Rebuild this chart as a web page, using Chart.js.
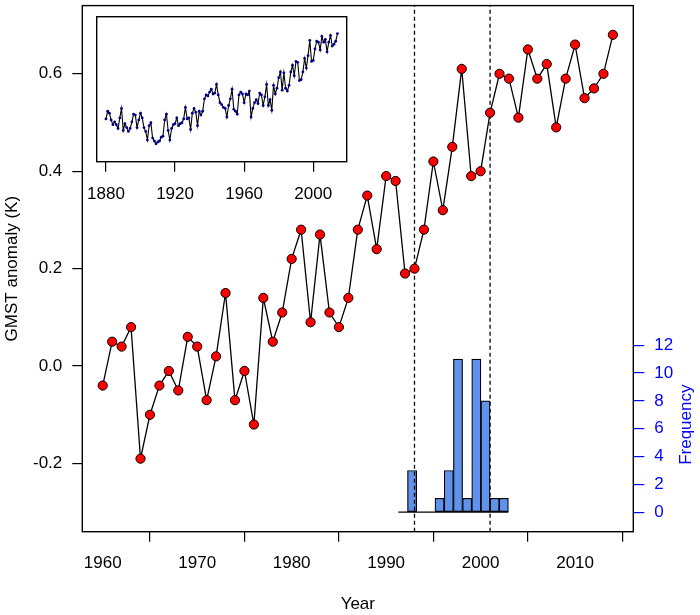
<!DOCTYPE html>
<html>
<head>
<meta charset="utf-8">
<script src="https://cdn.jsdelivr.net/npm/chart.js@4/dist/chart.umd.min.js"></script>
<style>
  html, body { margin: 0; padding: 0; background: #ffffff; }
  #wrap { position: relative; width: 700px; height: 615px; }
  #mainBox { position: absolute; left: 0; top: 0; width: 700px; height: 615px; }
  #insetBox { position: absolute; left: 0; top: 0; width: 360px; height: 215px; }
</style>
</head>
<body>
<div id="wrap">
  <div id="mainBox"><canvas id="main"></canvas></div>
  <div id="insetBox"><canvas id="inset"></canvas></div>
</div>
<script>
// ---------------- DATA ----------------
const years = [1960,1961,1962,1963,1964,1965,1966,1967,1968,1969,
               1970,1971,1972,1973,1974,1975,1976,1977,1978,1979,
               1980,1981,1982,1983,1984,1985,1986,1987,1988,1989,
               1990,1991,1992,1993,1994,1995,1996,1997,1998,1999,
               2000,2001,2002,2003,2004,2005,2006,2007,2008,2009,
               2010,2011,2012,2013,2014];
const gmst = [-0.04,0.05,0.04,0.08,-0.19,-0.10,-0.04,-0.01,-0.05,0.06,
              0.04,-0.07,0.02,0.15,-0.07,-0.01,-0.12,0.14,0.05,0.11,
              0.22,0.28,0.09,0.27,0.11,0.08,0.14,0.28,0.35,0.24,
              0.39,0.38,0.19,0.20,0.28,0.42,0.32,0.45,0.61,0.39,
              0.40,0.52,0.60,0.59,0.51,0.65,0.59,0.62,0.49,0.59,
              0.66,0.55,0.57,0.60,0.68];

const insetYears = [1880,1881,1882,1883,1884,1885,1886,1887,1888,1889,
                    1890,1891,1892,1893,1894,1895,1896,1897,1898,1899,
                    1900,1901,1902,1903,1904,1905,1906,1907,1908,1909,
                    1910,1911,1912,1913,1914,1915,1916,1917,1918,1919,
                    1920,1921,1922,1923,1924,1925,1926,1927,1928,1929,
                    1930,1931,1932,1933,1934,1935,1936,1937,1938,1939,
                    1940,1941,1942,1943,1944,1945,1946,1947,1948,1949,
                    1950,1951,1952,1953,1954,1955,1956,1957,1958,1959,
                    1960,1961,1962,1963,1964,1965,1966,1967,1968,1969,
                    1970,1971,1972,1973,1974,1975,1976,1977,1978,1979,
                    1980,1981,1982,1983,1984,1985,1986,1987,1988,1989,
                    1990,1991,1992,1993,1994,1995,1996,1997,1998,1999,
                    2000,2001,2002,2003,2004,2005,2006,2007,2008,2009,
                    2010,2011,2012,2013,2014];
const insetValues = [-0.21,-0.13,-0.15,-0.22,-0.27,-0.24,-0.27,-0.31,-0.20,-0.10,
                     -0.33,-0.26,-0.30,-0.34,-0.31,-0.24,-0.16,-0.17,-0.30,-0.22,
                     -0.15,-0.20,-0.30,-0.34,-0.43,-0.28,-0.25,-0.41,-0.44,-0.47,
                     -0.45,-0.44,-0.40,-0.39,-0.22,-0.16,-0.33,-0.43,-0.31,-0.27,
                     -0.26,-0.20,-0.28,-0.26,-0.25,-0.21,-0.09,-0.21,-0.20,-0.32,
                     -0.15,-0.10,-0.14,-0.28,-0.13,-0.17,-0.13,0.00,0.04,0.03,
                     0.07,0.10,0.05,0.06,0.15,0.04,-0.04,-0.06,-0.09,-0.10,
                     -0.19,-0.07,0.00,0.10,-0.11,-0.13,-0.16,0.04,0.07,0.05,
                     -0.04,0.05,0.04,0.08,-0.19,-0.10,-0.04,-0.01,-0.05,0.06,
                     0.04,-0.07,0.02,0.15,-0.07,-0.01,-0.12,0.14,0.05,0.11,
                     0.22,0.28,0.09,0.27,0.11,0.08,0.14,0.28,0.35,0.24,
                     0.39,0.38,0.19,0.20,0.28,0.42,0.32,0.45,0.61,0.39,
                     0.40,0.52,0.60,0.59,0.51,0.65,0.59,0.62,0.49,0.59,
                     0.66,0.55,0.57,0.60,0.68];

// histogram of break years (bin edges in years, counts per bin)
const binEdges = [1991.29,1992.26,1993.23,1994.20,1995.17,1996.14,1997.12,
                  1998.09,1999.06,2000.03,2001.00,2001.97,2002.94];
const binCounts = [0,3,0,0,1,3,11,1,11,8,1,1];

// vertical dashed lines (break years)
const breakYears = [1993, 2001];

// tick labels
const xTicks = [1960,1970,1980,1990,2000,2010];
const yTicks = [-0.2,0.0,0.2,0.4,0.6];
const freqTicks = [0,2,4,6,8,10,12];
const insetXTicks = [1880,1920,1960,2000];

// axis ranges
const xRange = [1957.84, 2016.16];
const yRange = [-0.34, 0.74];
const freqRange = [-1.4, 36.4];
const insetXRange = [1874.64, 2019.36];
const insetYRange = [-0.656, 0.856];

// ---------------- STYLE ----------------
const FONT = { family: "'Liberation Sans', Arial, Helvetica, sans-serif", size: 17 };
Chart.defaults.font.family = FONT.family;
Chart.defaults.font.size = 17;
Chart.defaults.color = '#000';
const BLUE = '#0000ff';

function fixW(w) {
  return s => { s.width = w; s.paddingTop = 0; s.paddingBottom = 0; s.paddingLeft = 0; s.paddingRight = 0; };
}
function fixH(h) {
  return s => { s.height = h; s.paddingTop = 0; s.paddingBottom = 0; s.paddingLeft = 0; s.paddingRight = 0; };
}

const boxPlugin = {
  id: 'boxPlugin',
  afterDraw(chart) {
    const a = chart.chartArea, c = chart.ctx;
    c.save();
    c.strokeStyle = '#000';
    c.lineWidth = 1.4;
    c.strokeRect(a.left, a.top, a.right - a.left, a.bottom - a.top);
    c.restore();
  }
};

const freqTitlePlugin = {
  id: 'freqTitle',
  afterDraw(chart) {
    const s = chart.scales.y2, c = chart.ctx;
    const yMid = (s.getPixelForValue(freqTicks[0]) + s.getPixelForValue(freqTicks[freqTicks.length - 1])) / 2;
    c.save();
    c.translate(chart.width - 14, yMid - 4);
    c.rotate(-Math.PI / 2);
    c.fillStyle = BLUE;
    c.font = `17px ${FONT.family}`;
    c.textAlign = 'center';
    c.textBaseline = 'middle';
    c.fillText('Frequency', 0, 0);
    c.restore();
  }
};

// histogram bars (non-empty bins), centred on bins
const histData = [];
for (let i = 0; i < binCounts.length; i++) {
  if (binCounts[i] > 0) histData.push({ x: (binEdges[i] + binEdges[i + 1]) / 2, y: binCounts[i] });
}

const dashedSets = breakYears.map(b => ({
  type: 'line',
  data: [{ x: b, y: yRange[0] }, { x: b, y: yRange[1] }],
  xAxisID: 'x', yAxisID: 'y',
  borderColor: '#000', borderWidth: 1.3, borderDash: [4, 3],
  pointRadius: 0, order: 1
}));

new Chart(document.getElementById('main'), {
  type: 'line',
  data: {
    datasets: [
      {
        type: 'line',
        label: 'GMST',
        data: years.map((y, i) => ({ x: y, y: gmst[i] })),
        xAxisID: 'x', yAxisID: 'y',
        borderColor: '#000', borderWidth: 1.3,
        pointRadius: 4.6, pointBackgroundColor: '#ff0000',
        pointBorderColor: '#000', pointBorderWidth: 1,
        tension: 0, order: 0
      },
      ...dashedSets,
      {
        type: 'line',
        data: [{ x: binEdges[0], y: 0 }, { x: binEdges[binEdges.length - 1], y: 0 }],
        xAxisID: 'x', yAxisID: 'y2',
        borderColor: '#000', borderWidth: 1.2, pointRadius: 0, order: 2
      },
      {
        type: 'bar',
        data: histData,
        xAxisID: 'x', yAxisID: 'y2',
        backgroundColor: '#5f92eb', borderColor: '#000', borderWidth: 1.2,
        borderSkipped: false,
        barPercentage: 1, categoryPercentage: 1, order: 3
      }
    ]
  },
  options: {
    responsive: true, maintainAspectRatio: false, animation: false,
    layout: { padding: { top: 2, left: 0, right: 0, bottom: 0 } },
    plugins: { legend: { display: false }, tooltip: { enabled: false } },
    scales: {
      x: {
        type: 'linear', position: 'bottom', min: xRange[0], max: xRange[1], offset: false,
        afterBuildTicks: s => { s.ticks = xTicks.map(v => ({ value: v })); },
        ticks: { callback: v => String(v), padding: 11, autoSkip: false, maxRotation: 0, color: '#000' },
        grid: { drawOnChartArea: false, drawTicks: true, tickLength: 10, color: '#000', lineWidth: 1.2 },
        border: { display: false },
        title: { display: true, text: 'Year', color: '#000', font: { size: 17 }, padding: { top: 0, bottom: 0 } },
        afterFit: fixH(83.3)
      },
      y: {
        type: 'linear', position: 'left', min: yRange[0], max: yRange[1],
        afterBuildTicks: s => { s.ticks = yTicks.map(v => ({ value: v })); },
        ticks: { callback: v => v.toFixed(1), padding: 10, color: '#000' },
        grid: { drawOnChartArea: false, drawTicks: true, tickLength: 10, color: '#000', lineWidth: 1.2 },
        border: { display: false },
        title: { display: true, text: 'GMST anomaly (K)', color: '#000', font: { size: 17 }, padding: { top: 2, bottom: 0 } },
        afterFit: fixW(82.3)
      },
      y2: {
        type: 'linear', position: 'right', min: freqRange[0], max: freqRange[1],
        afterBuildTicks: s => { s.ticks = freqTicks.map(v => ({ value: v })); },
        ticks: { callback: v => String(v), padding: 10, color: BLUE },
        grid: { drawOnChartArea: false, drawTicks: true, tickLength: 11, color: BLUE, lineWidth: 1.2 },
        border: { display: false },
        afterFit: fixW(66.7)
      }
    }
  },
  plugins: [boxPlugin, freqTitlePlugin]
});

new Chart(document.getElementById('inset'), {
  type: 'line',
  data: {
    datasets: [{
      data: insetYears.map((y, i) => ({ x: y, y: insetValues[i] })),
      borderColor: '#000', borderWidth: 1.1,
      pointRadius: 1.4, pointBackgroundColor: '#000080',
      pointBorderColor: '#000080', pointBorderWidth: 0, tension: 0
    }]
  },
  options: {
    responsive: true, maintainAspectRatio: false, animation: false,
    layout: { padding: { top: 16.7, left: 96.7, right: 13.3, bottom: 0 } },
    plugins: { legend: { display: false }, tooltip: { enabled: false } },
    scales: {
      x: {
        type: 'linear', position: 'bottom', min: insetXRange[0], max: insetXRange[1],
        afterBuildTicks: s => { s.ticks = insetXTicks.map(v => ({ value: v })); },
        ticks: { callback: v => String(v), padding: 12, autoSkip: false, maxRotation: 0, color: '#000' },
        grid: { drawOnChartArea: false, drawTicks: true, tickLength: 10, color: '#000', lineWidth: 1.2 },
        border: { display: false },
        afterFit: fixH(53.3)
      },
      y: { display: false, min: insetYRange[0], max: insetYRange[1] }
    }
  },
  plugins: [boxPlugin]
});
</script>
</body>
</html>
